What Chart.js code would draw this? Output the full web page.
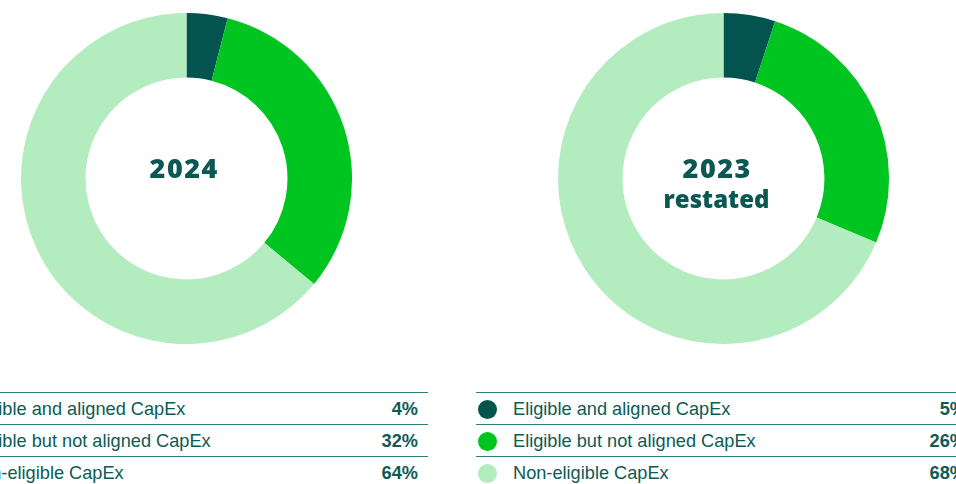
<!DOCTYPE html>
<html>
<head>
<meta charset="utf-8">
<script src="https://cdn.jsdelivr.net/npm/chart.js@4.4.1/dist/chart.umd.min.js"></script>
<style>
  html, body { margin: 0; padding: 0; background: #fff; }
  body { width: 956px; height: 484px; position: relative; overflow: hidden; font-family: "Liberation Sans", Arial, sans-serif; }
  .pie { position: absolute; top: 13px; width: 331px; height: 331px; }
  .legend { position: absolute; top: 392px; width: 500px; border-collapse: collapse; color: #0d5b55; font-size: 18.2px; }
  .legend td { border-top: 1px solid #2f7d77; height: 29px; padding: 2px 0 0 0; vertical-align: middle; }
  .legend .dot { width: 37px; }
  .legend .dot span { display: inline-block; width: 19px; height: 19px; border-radius: 50%; margin-left: 2px; vertical-align: middle; position: relative; top: -1px; }
  .legend .val { text-align: right; font-weight: bold; padding-right: 10px; }
</style>
</head>
<body>
<div class="pie" id="pie2024" style="left:21px"><canvas id="c2024"></canvas></div>
<div class="pie" id="pie2023" style="left:558px"><canvas id="c2023"></canvas></div>
<table class="legend" id="legend2024" style="left:-69px; width:497px"></table>
<table class="legend" id="legend2023" style="left:476px"></table>

<script>
const categories = ['Eligible and aligned CapEx', 'Eligible but not aligned CapEx', 'Non-eligible CapEx'];
const values2024 = [4, 32, 64];
const values2023 = [5, 26, 68];
const title2024 = ['2024'];
const title2023 = ['2023', 'restated'];
const colors = ['#03544f', '#00c41f', '#b3ecbf'];

// draws the year label inside the hole, first line just above centre
const centerText = {
  id: 'centerText',
  afterDraw(chart, args, opts) {
    const lines = opts.lines || [];
    const ctx = chart.ctx;
    const arc = chart.getDatasetMeta(0).data[0];
    if (!arc) return;
    const x = arc.x + (opts.dx || 0);
    let y = arc.y - 8;
    ctx.save();
    ctx.fillStyle = '#0b5853';
    ctx.textAlign = 'center';
    ctx.textBaseline = 'middle';
    lines.forEach(l => {
      // the year digits are set larger and a little wider
      const year = /^\d+$/.test(l);
      const sp = year ? 1.5 : 0;
      ctx.font = '800 ' + (year ? 27 : 24) + 'px "Open Sans", sans-serif';
      ctx.letterSpacing = sp + 'px';
      ctx.fillText(l, x + sp / 2, y);
      y += 31;
    });
    ctx.restore();
  }
};

function makePie(id, values, lines, dx) {
  return new Chart(document.getElementById(id), {
    type: 'doughnut',
    data: {
      labels: categories,
      datasets: [{
        data: values,
        backgroundColor: colors,
        borderWidth: 0
      }]
    },
    options: {
      responsive: true,
      maintainAspectRatio: false,
      animation: false,
      cutout: '61%',
      layout: { padding: 0 },
      plugins: {
        legend: { display: false },
        tooltip: { enabled: false },
        centerText: { lines: lines, dx: dx }
      }
    },
    plugins: [centerText]
  });
}

function makeLegend(id, values) {
  const table = document.getElementById(id);
  categories.forEach((name, i) => {
    const tr = document.createElement('tr');
    tr.innerHTML = `
      <td class="dot"><span style="background:${colors[i]}"></span></td>
      <td>${name}</td>
      <td class="val">${values[i]}%</td>`;
    table.append(tr);
  });
}

makePie('c2024', values2024, title2024, -3);
makePie('c2023', values2023, title2023, -7);
makeLegend('legend2024', values2024);
makeLegend('legend2023', values2023);
</script>
</body>
</html>
